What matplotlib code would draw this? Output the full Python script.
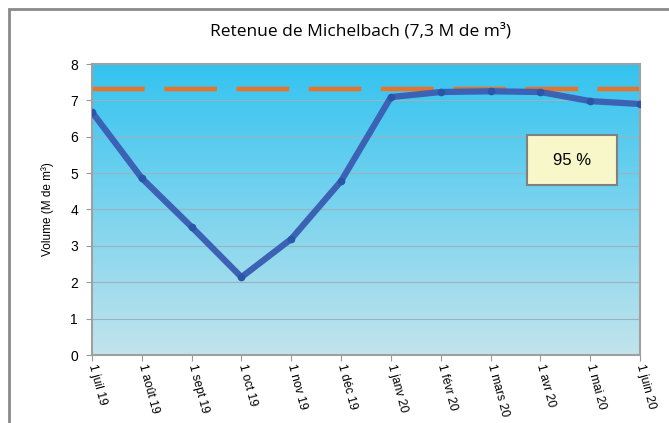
import numpy as np
import matplotlib.pyplot as plt
from matplotlib.patches import Rectangle

##data
months = ['1 juil 19', '1 août 19', '1 sept 19', '1 oct 19', '1 nov 19', '1 déc 19',
          '1 janv 20', '1 févr 20', '1 mars 20', '1 avr 20', '1 mai 20', '1 juin 20']
volume = [6.68, 4.86, 3.52, 2.14, 3.19, 4.78, 7.09, 7.23, 7.25, 7.23, 6.98, 6.90]
capacity = 7.3
fill_label = '95 %'

plt.rcParams['lines.scale_dashes'] = False
plt.rcParams['font.family'] = ['Liberation Sans', 'DejaVu Sans']

fig = plt.figure(figsize=(6.69, 4.23), dpi=100)
ax = fig.add_axes([92/669, 1-355/423, (640-92)/669, (355-64)/423])

x = np.arange(len(months))

##gradient background
top = np.array([0x33, 0xC3, 0xF0]) / 255
bot = np.array([0xC2, 0xE4, 0xEC]) / 255
t = np.linspace(0, 1, 256)[:, None]
grad = (bot * (1 - t) + top * t)[:, None, :]
ax.imshow(grad, extent=[0, len(x)-1, 0, 8], origin='lower', aspect='auto', zorder=0)

for yv in range(1, 8):
    ax.axhline(yv, color='#9AB4BE', lw=0.8, zorder=1)

ax.plot([0, len(x)-1], [capacity, capacity], color='#E8742A', lw=3.2,
        dashes=(38, 14), zorder=2)
ax.plot(x, volume, color='#3B62B4', lw=4.5, marker='o', ms=4.5,
        mfc='#2B55A8', mec='#2B55A8', solid_capstyle='round', zorder=3)

ax.set_xlim(0, len(x)-1)
ax.set_ylim(0, 8)
ax.set_yticks(range(9))
ax.set_xticks(x)
ax.set_xticklabels(months, rotation=-75, rotation_mode='anchor', ha='left', va='center',
                   fontsize=8.7, family=['Liberation Sans Narrow', 'Liberation Sans'])
ax.tick_params(axis='y', labelsize=10, length=4, color='#999999', pad=6)
ax.tick_params(axis='x', length=4, color='#999999', pad=3)
for s in ax.spines.values():
    s.set_color('#A0A0A0')
    s.set_linewidth(1.5)

ax.set_ylabel('Volume (M de m³)', fontsize=8.5, labelpad=12,
              family=['Liberation Sans Narrow', 'Liberation Sans'])

##fill rate box
bx, by, bw, bh = 9.63, 5.36, 1.81, 1.40
ax.add_patch(Rectangle((bx - bw/2, by - bh/2), bw, bh, fc='#F7F7C9', ec='#808080',
                       lw=1.5, zorder=4))
ax.text(bx, by, fill_label, fontsize=12, ha='center', va='center', zorder=5)

fig.text(361/669, 1-31/423, 'Retenue de Michelbach (7,3 M de m³)',
         fontsize=12.5, ha='center', va='center', family=['Open Sans', 'DejaVu Sans'])

##outer chart frame (cropped at right and bottom)
fig.patches.append(Rectangle((9/669, -0.1), 1.2, 1.1 - 9/423,
                             transform=fig.transFigure, fill=False,
                             ec='#8A8A8A', lw=2))

fig.savefig('out.png', dpi=100)
